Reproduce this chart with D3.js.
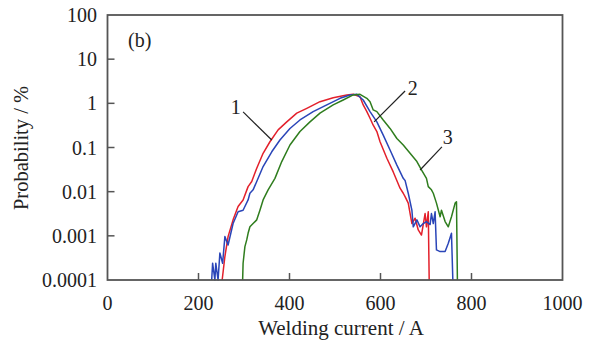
<!DOCTYPE html>
<html>
<head>
<meta charset="utf-8">
<script src="https://cdn.jsdelivr.net/npm/d3@7"></script>
<style>
  body { margin: 0; background: #fff; }
  text { font-family: "Liberation Serif", "Times New Roman", serif; fill: #222; }
</style>
</head>
<body>
<div id="chart"></div>
<script>
var width = 592;
var height = 347;

// welding current (A), probability (%)
var curve1 = [[252,0.0001],[258,0.00034],[265,0.00096],[276,0.0023],[287,0.0046],[298,0.0065],[309,0.013],
  [317,0.017],[328,0.034],[342,0.074],[357,0.135],[375,0.25],[394,0.38],[416,0.60],[438,0.77],[467,1.09],
  [496,1.34],[526,1.55],[540,1.60],[555,1.41],[562,0.92],[570,0.65],[577,0.46],[584,0.32],[592,0.23],
  [599,0.135],[614,0.057],[628,0.028],[643,0.012],[650,0.0092],[654,0.0077],[661,0.0055],[669,0.0019],
  [676,0.0025],[683,0.00136],[690,0.00104],[698,0.0032],[701,0.0016],[705,0.0035],[707,0.0001]];

var curve2 = [[229,0.0001],[231,0.00024],[236,0.0001],[238,0.00024],[243,0.0001],[247,0.00041],[253,0.00024],
  [258,0.00096],[265,0.00062],[276,0.0019],[287,0.0035],[298,0.0038],[309,0.0065],[313,0.0092],[320,0.011],
  [328,0.017],[342,0.037],[361,0.080],[379,0.148],[401,0.27],[423,0.42],[452,0.65],[482,0.92],[511,1.30],
  [533,1.55],[548,1.60],[562,1.19],[577,0.65],[592,0.38],[606,0.19],[621,0.088],[636,0.040],[650,0.020],
  [654,0.018],[661,0.0092],[669,0.0038],[672,0.0016],[680,0.0023],[687,0.0016],[694,0.0019],[701,0.0021],
  [709,0.0018],[712,0.0032],[716,0.0019],[720,0.0035],[723,0.00048],[731,0.00044],[742,0.00044],
  [749,0.00068],[756,0.00114],[759,0.0001]];

var curve3 = [[297,0.0001],[298,0.00024],[302,0.00057],[306,0.00081],[309,0.00114],[313,0.0016],[320,0.0019],
  [328,0.0023],[335,0.0038],[342,0.0065],[353,0.011],[368,0.020],[383,0.048],[401,0.114],[423,0.23],
  [445,0.38],[467,0.60],[496,0.92],[518,1.19],[540,1.55],[555,1.60],[570,1.30],[577,1.09],[584,0.71],
  [592,0.65],[606,0.42],[621,0.27],[636,0.16],[650,0.114],[665,0.074],[680,0.048],[690,0.031],[701,0.020],
  [705,0.013],[712,0.011],[716,0.0092],[723,0.0055],[731,0.0027],[734,0.0038],[742,0.0021],[749,0.0016],
  [756,0.0027],[764,0.0055],[767,0.0059],[769,0.0001]];

var seriesColors = ["#e3202b", "#2a45b8", "#2f7d1e"];
var xTicks = [0, 200, 400, 600, 800, 1000];
var yTicks = [0.0001, 0.001, 0.01, 0.1, 1, 10, 100];
var yTickLabels = ["0.0001", "0.001", "0.01", "0.1", "1", "10", "100"];

// curve labels: [text, label x, label p, line from x, p, line to x, p]
var callouts = [
  ["1", 282, 0.83, 298, 0.64, 361, 0.148],
  ["2", 671, 2.2, 654, 1.9, 586, 0.38],
  ["3", 748, 0.173, 735, 0.103, 687, 0.031]
];

var svg = d3.select("#chart").append("svg")
    .attr("width", width)
    .attr("height", height);

var xScale = d3.scaleLinear().domain([0, 1000]).range([107.5, 562.5]);
var yScale = d3.scaleLog().domain([0.0001, 100]).range([280, 15]);

var line = d3.line()
    .x(function(d) { return xScale(d[0]); })
    .y(function(d) { return yScale(d[1]); });

[curve1, curve2, curve3].forEach(function(c, i) {
  svg.append("path")
      .datum(c)
      .attr("d", line)
      .attr("fill", "none")
      .attr("stroke", seriesColors[i])
      .attr("stroke-width", 1.5)
      .attr("stroke-linejoin", "round");
});

// frame
svg.append("rect")
    .attr("x", 107.5).attr("y", 15)
    .attr("width", 455).attr("height", 265)
    .attr("fill", "none")
    .attr("stroke", "#555")
    .attr("stroke-width", 1.8);

// ticks inside
svg.selectAll(".xt").data(xTicks.slice(1, -1)).enter().append("line")
    .attr("x1", function(d) { return xScale(d); })
    .attr("x2", function(d) { return xScale(d); })
    .attr("y1", 280).attr("y2", 273)
    .attr("stroke", "#555").attr("stroke-width", 1.5);

svg.selectAll(".yt").data(yTicks.slice(1, -1)).enter().append("line")
    .attr("y1", function(d) { return yScale(d); })
    .attr("y2", function(d) { return yScale(d); })
    .attr("x1", 107.5).attr("x2", 114.5)
    .attr("stroke", "#555").attr("stroke-width", 1.5);

svg.selectAll(".xl").data(xTicks).enter().append("text")
    .attr("x", function(d) { return xScale(d); })
    .attr("y", 310)
    .attr("text-anchor", "middle")
    .style("font-size", "20px")
    .text(function(d) { return d; });

svg.selectAll(".yl").data(yTicks).enter().append("text")
    .attr("x", 97)
    .attr("y", function(d) { return yScale(d); })
    .attr("dy", "0.35em")
    .attr("text-anchor", "end")
    .style("font-size", "20px")
    .text(function(d, i) { return yTickLabels[i]; });

svg.append("text")
    .attr("x", 341).attr("y", 335)
    .attr("text-anchor", "middle")
    .style("font-size", "21px")
    .text("Welding current / A");

svg.append("text")
    .attr("transform", "translate(28,148) rotate(-90)")
    .attr("text-anchor", "middle")
    .style("font-size", "20.5px")
    .text("Probability / %");

svg.append("text")
    .attr("x", 128).attr("y", 47)
    .style("font-size", "20px")
    .text("(b)");

callouts.forEach(function(c) {
  svg.append("line")
      .attr("x1", xScale(c[3])).attr("y1", yScale(c[4]))
      .attr("x2", xScale(c[5])).attr("y2", yScale(c[6]))
      .attr("stroke", "#222").attr("stroke-width", 1.2);
  svg.append("text")
      .attr("x", xScale(c[1])).attr("y", yScale(c[2]))
      .attr("dy", "0.35em")
      .attr("text-anchor", "middle")
      .style("font-size", "20px")
      .text(c[0]);
});
</script>
</body>
</html>
